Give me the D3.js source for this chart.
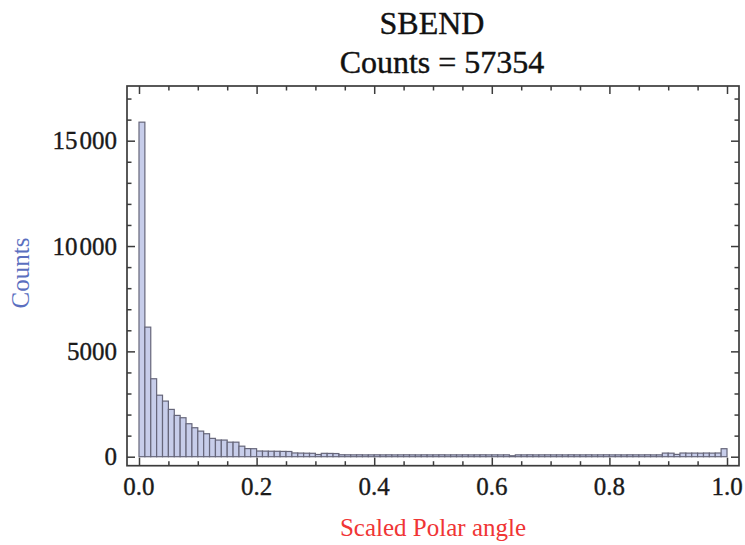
<!DOCTYPE html>
<html>
<head>
<meta charset="utf-8">
<script src="https://cdn.jsdelivr.net/npm/d3@7"></script>
<style>
  html, body { margin: 0; padding: 0; background: #fff; }
  svg { display: block; }
  text { font-family: "Liberation Serif", "Times New Roman", serif; }
</style>
</head>
<body>
<svg id="chart" width="745" height="545"></svg>
<script>
// ---- data ----
const binWidth = 0.01;
const binStarts = d3.range(100).map(i => +(i * 0.01).toFixed(2));
const counts = [
  15880, 6150, 3700, 2920, 2640, 2245, 1960, 1850, 1565, 1375,
  1215, 1090, 870, 790, 790, 690, 690, 500, 385, 380,
  270, 265, 260, 258, 252, 248, 178, 172, 166, 162,
  105, 160, 156, 150, 92, 90, 88, 90, 86, 88,
  90, 87, 89, 86, 88, 90, 88, 86, 89, 87,
  88, 90, 86, 88, 87, 89, 86, 88, 90, 87,
  88, 86, 89, 45, 88, 87, 90, 86, 88, 89,
  87, 88, 86, 90, 88, 87, 89, 86, 88, 90,
  87, 88, 86, 89, 88, 87, 90, 86, 88, 172,
  168, 110, 175, 170, 172, 168, 174, 170, 176, 380
];
const xMajorTicks = [0, 0.2, 0.4, 0.6, 0.8, 1.0];
const xTickLabels = ["0.0", "0.2", "0.4", "0.6", "0.8", "1.0"];
const xMinorTicks = [0.05, 0.1, 0.15, 0.25, 0.3, 0.35, 0.45, 0.5, 0.55, 0.65, 0.7, 0.75, 0.85, 0.9, 0.95];
const yMajorTicks = [0, 5000, 10000, 15000];
const yTickLabels = ["0", "5000", "10\u200A000", "15\u200A000"];
const yMinorTicks = [1000, 2000, 3000, 4000, 6000, 7000, 8000, 9000, 11000, 12000, 13000, 14000, 16000, 17000];
const titleLines = ["SBEND", "Counts = 57354"];
const xLabel = "Scaled Polar angle";
const yLabel = "Counts";

// ---- layout ----
const pL = 127, pR = 739, pT = 86, pB = 465.7;
const svg = d3.select("#chart");
const x = d3.scaleLinear().domain([-0.0204, 1.0204]).range([pL, pR]);
const y = d3.scaleLinear().domain([-427, 17596]).range([pB, pT]);

// bars
svg.append("g").selectAll("rect").data(counts).join("rect")
  .attr("x", (d, i) => x(binStarts[i]))
  .attr("width", (d, i) => x(binStarts[i] + binWidth) - x(binStarts[i]))
  .attr("y", d => y(d))
  .attr("height", d => y(0) - y(d))
  .attr("fill", "#c7cdea")
  .attr("stroke", "#66667a")
  .attr("stroke-width", 1.2);

// frame
svg.append("rect")
  .attr("x", pL).attr("y", pT)
  .attr("width", pR - pL).attr("height", pB - pT)
  .attr("fill", "none").attr("stroke", "#3c3c3c").attr("stroke-width", 1.7);

function styleAxis(g) {
  g.select(".domain").remove();
  g.selectAll("line").attr("stroke", "#3c3c3c").attr("stroke-width", 1.5);
}
const majorLen = 8, minorLen = 4.5;
// bottom & top
svg.append("g").attr("transform", `translate(0,${pB})`)
  .call(d3.axisBottom(x).tickValues(xMajorTicks).tickSize(-majorLen).tickFormat("")).call(styleAxis);
svg.append("g").attr("transform", `translate(0,${pB})`)
  .call(d3.axisBottom(x).tickValues(xMinorTicks).tickSize(-minorLen).tickFormat("")).call(styleAxis);
svg.append("g").attr("transform", `translate(0,${pT})`)
  .call(d3.axisTop(x).tickValues(xMajorTicks).tickSize(-majorLen).tickFormat("")).call(styleAxis);
svg.append("g").attr("transform", `translate(0,${pT})`)
  .call(d3.axisTop(x).tickValues(xMinorTicks).tickSize(-minorLen).tickFormat("")).call(styleAxis);
// left & right
svg.append("g").attr("transform", `translate(${pL},0)`)
  .call(d3.axisLeft(y).tickValues(yMajorTicks).tickSize(-majorLen).tickFormat("")).call(styleAxis);
svg.append("g").attr("transform", `translate(${pL},0)`)
  .call(d3.axisLeft(y).tickValues(yMinorTicks).tickSize(-minorLen).tickFormat("")).call(styleAxis);
svg.append("g").attr("transform", `translate(${pR},0)`)
  .call(d3.axisRight(y).tickValues(yMajorTicks).tickSize(-majorLen).tickFormat("")).call(styleAxis);
svg.append("g").attr("transform", `translate(${pR},0)`)
  .call(d3.axisRight(y).tickValues(yMinorTicks).tickSize(-minorLen).tickFormat("")).call(styleAxis);

// tick labels
svg.append("g").selectAll("text").data(xMajorTicks).join("text")
  .attr("x", d => x(d)).attr("y", 495)
  .attr("text-anchor", "middle")
  .attr("font-size", 25).attr("fill", "#1a1a1a")
  .attr("stroke", "#1a1a1a").attr("stroke-width", 0.35)
  .text((d, i) => xTickLabels[i]);
svg.append("g").selectAll("text").data(yMajorTicks).join("text")
  .attr("x", 117).attr("y", d => y(d)).attr("dy", "0.35em")
  .attr("text-anchor", "end")
  .attr("font-size", 25).attr("fill", "#1a1a1a")
  .attr("stroke", "#1a1a1a").attr("stroke-width", 0.35)
  .text((d, i) => yTickLabels[i]);

// titles
svg.append("text").attr("x", 432).attr("y", 34).attr("text-anchor", "middle")
  .attr("font-size", 32).attr("fill", "#111")
  .attr("stroke", "#111").attr("stroke-width", 0.4).text(titleLines[0]);
svg.append("text").attr("x", 442).attr("y", 73).attr("text-anchor", "middle")
  .attr("font-size", 32).attr("fill", "#111")
  .attr("stroke", "#111").attr("stroke-width", 0.4).text(titleLines[1]);

// axis labels
svg.append("text").attr("x", 433).attr("y", 536).attr("text-anchor", "middle")
  .attr("font-size", 25).attr("fill", "#f03535").text(xLabel);
svg.append("text")
  .attr("transform", `translate(29,273) rotate(-90)`)
  .attr("text-anchor", "middle")
  .attr("font-size", 25).attr("fill", "#5b6fbf").text(yLabel);
</script>
</body>
</html>
